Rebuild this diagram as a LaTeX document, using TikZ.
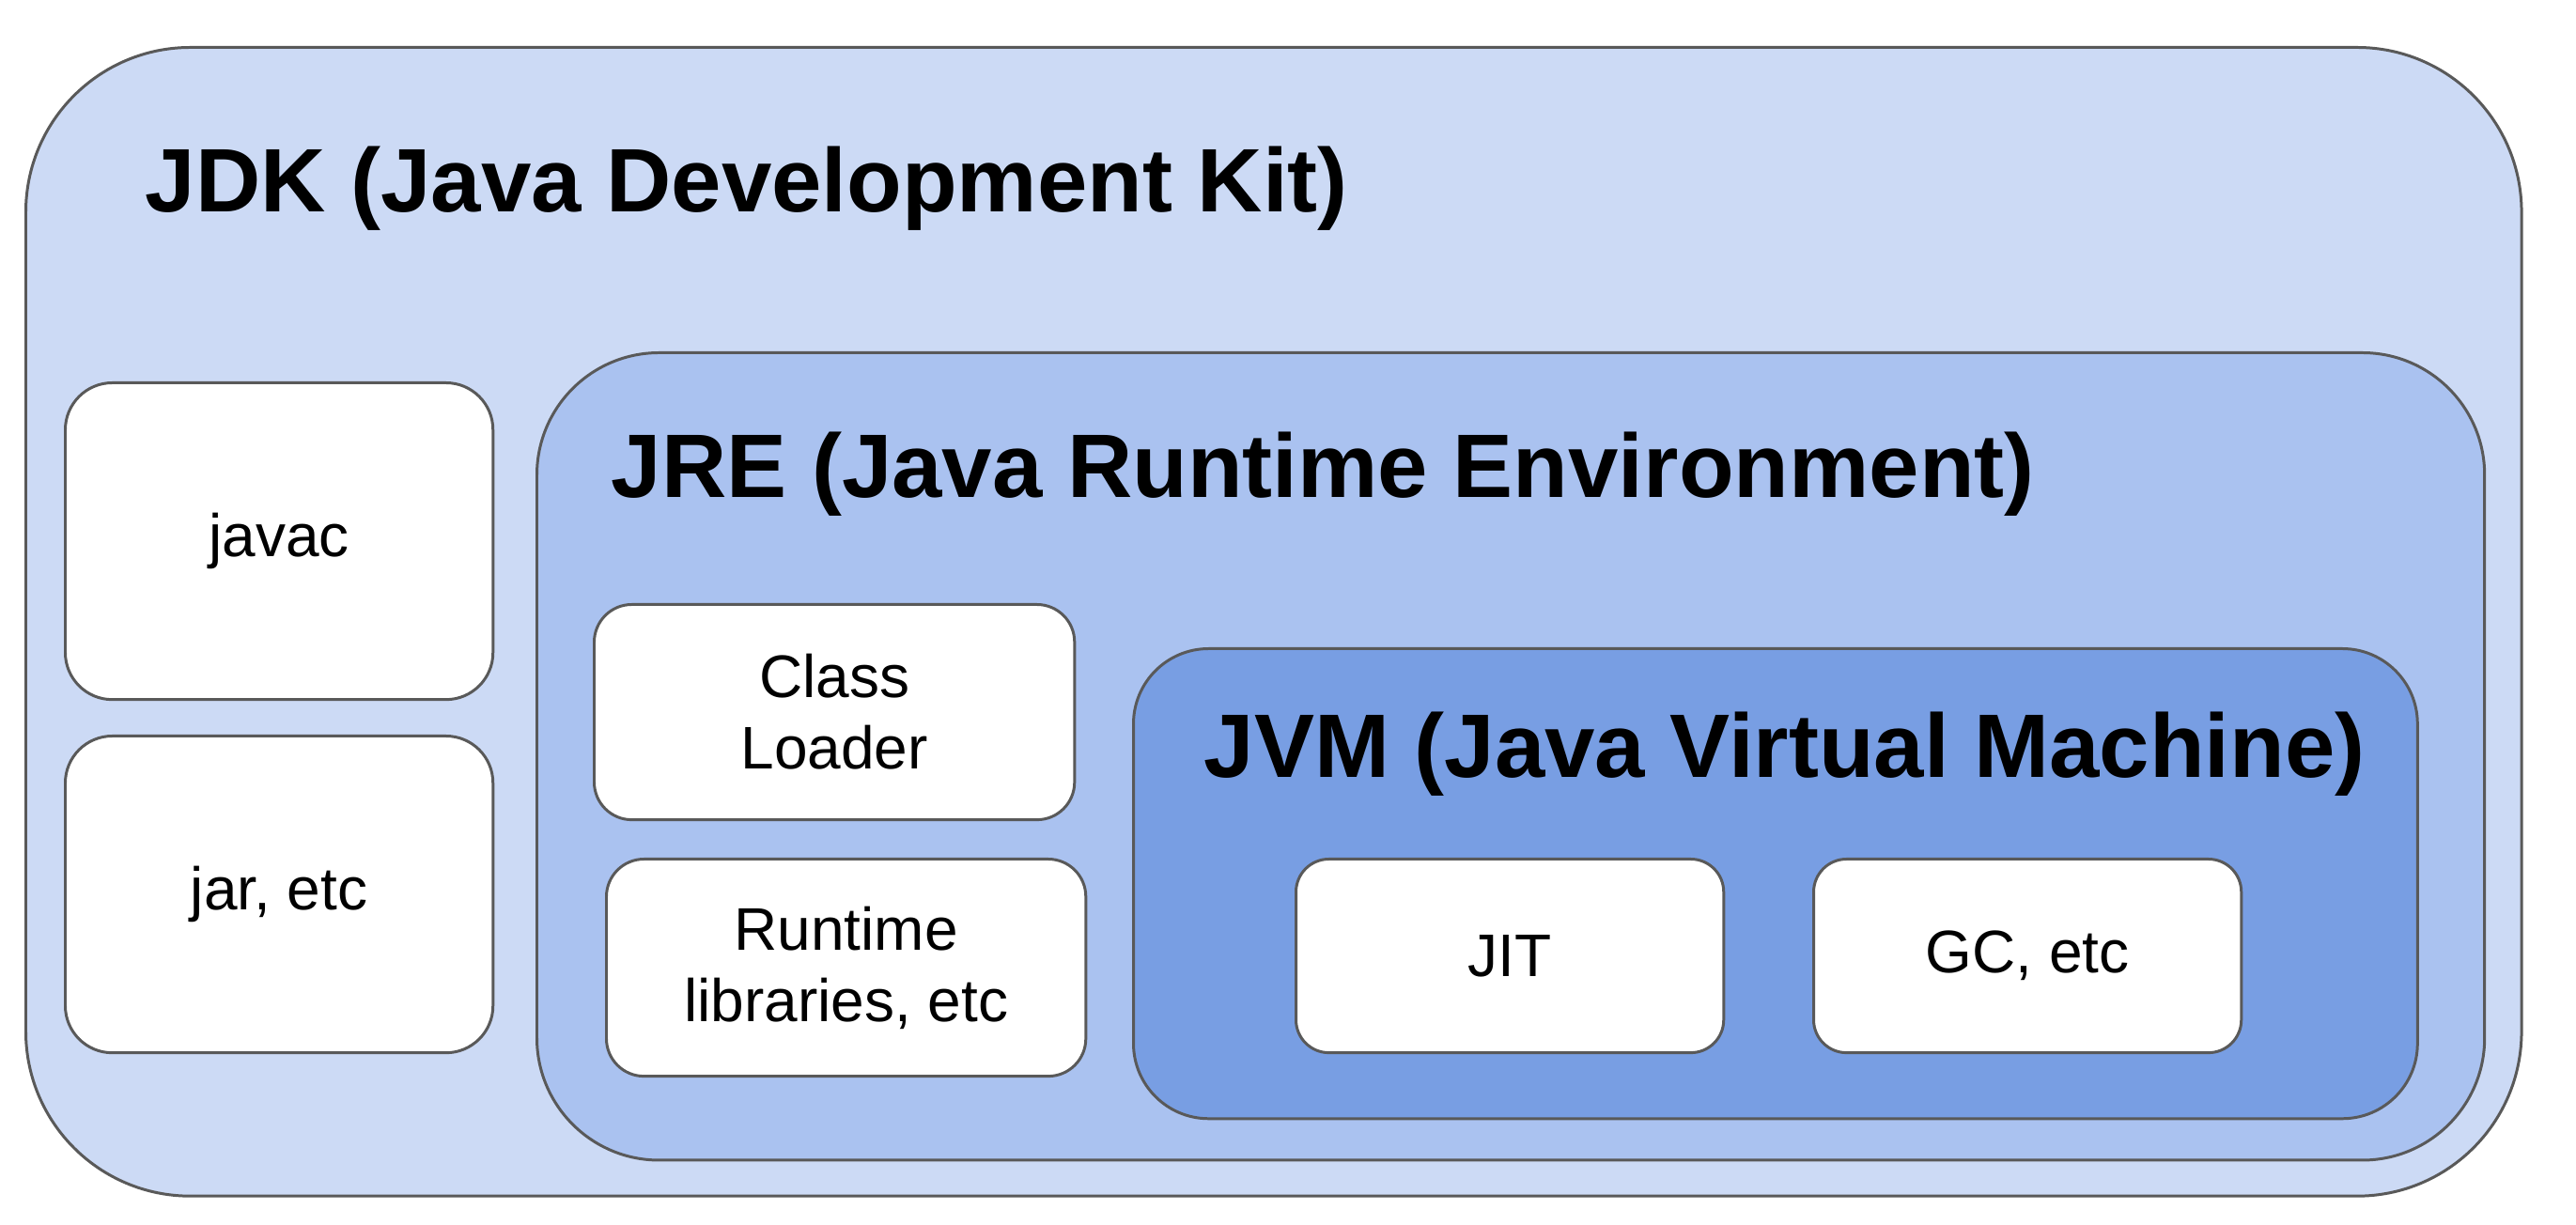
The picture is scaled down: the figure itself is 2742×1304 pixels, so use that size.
\documentclass[tikz,border=0pt]{standalone}
\usepackage{fontspec}
\setmainfont{Liberation Sans}
\definecolor{jdkFill}{RGB}{204,218,245}
\definecolor{jreFill}{RGB}{170,194,240}
\definecolor{jvmFill}{RGB}{120,158,227}
\definecolor{edgeGray}{RGB}{89,89,89}
\usepackage{tikz}
\usetikzlibrary{positioning}

\tikzset{
  layer/.style={draw=edgeGray, line width=0.85pt, anchor=north west, inner sep=0pt},
  toolbox/.style={layer, fill=white, align=center,
    font=\fontsize{18.2}{21.6}\selectfont},
  layertitle/.style={anchor=base west, inner sep=0pt,
    font=\bfseries\fontsize{27.3}{32}\selectfont}
}

\begin{document}
\begin{tikzpicture}[x=0.01cm, y=-0.01cm]
  \useasboundingbox (0,0) rectangle (2742,1304);

  % outer layers
  \node[layer, fill=jdkFill, rounded corners=1.75cm,
    minimum width=26.55cm, minimum height=12.22cm] (jdk) at (26,49) {};
  \node[layertitle] (jdkTitle) at (154,226) {JDK (Java Development Kit)};

  \node[layer, fill=jreFill, rounded corners=1.3cm,
    minimum width=20.72cm, minimum height=8.59cm] (jre) at (570,374) {};
  \node[layertitle] (jreTitle) at (650,530) {JRE (Java Runtime Environment)};

  \node[layer, fill=jvmFill, rounded corners=0.8cm,
    minimum width=13.66cm, minimum height=5.00cm] (jvm) at (1205,689) {};
  \node[layertitle] (jvmTitle) at (1281,828) {JVM (Java Virtual Machine)};

  % tools
  \node[toolbox, rounded corners=0.5cm, minimum width=4.55cm, minimum height=3.37cm]
    (javac) at (68,406) {javac};
  \node[toolbox, rounded corners=0.5cm, minimum width=4.55cm, minimum height=3.37cm]
    (jar) at (68,782) {jar, etc};

  \node[toolbox, rounded corners=0.4cm, minimum width=5.11cm, minimum height=2.29cm]
    (loader) at (631,642) {Class\\Loader};
  \node[toolbox, rounded corners=0.4cm, minimum width=5.10cm, minimum height=2.31cm]
    (rtlib) at (644,913) {Runtime\\libraries, etc};

  \node[toolbox, rounded corners=0.35cm, minimum width=4.55cm, minimum height=2.06cm]
    (jit) at (1378,913) {JIT};
  \node[toolbox, rounded corners=0.35cm, minimum width=4.55cm, minimum height=2.06cm]
    (gc) at (1929,913) {GC, etc};
\end{tikzpicture}
\end{document}
